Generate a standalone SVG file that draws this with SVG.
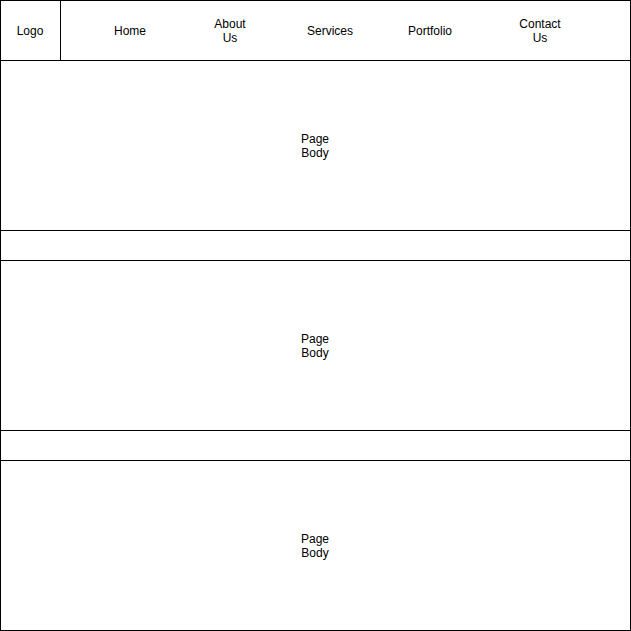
<svg xmlns="http://www.w3.org/2000/svg" width="631" height="631" viewBox="0 0 631 631">
<style>
.box{fill:#ffffff;stroke:#000000;stroke-width:1}
.t{font-family:"Liberation Sans",Arial,sans-serif;font-size:12px;fill:#000000;text-anchor:middle}
</style>
<rect x="0" y="0" width="631" height="631" fill="#ffffff"/>
<g id="header"><rect class="box" x="0.5" y="0.5" width="630" height="60"/></g>
<g id="logo"><rect class="box" x="0.5" y="0.5" width="60" height="60"/><text class="t" x="30" y="35">Logo</text></g>
<g id="nav-home"><text class="t" x="130" y="35">Home</text></g>
<g id="nav-about"><text class="t" x="230" y="28">About</text><text class="t" x="230" y="42">Us</text></g>
<g id="nav-services"><text class="t" x="330" y="35">Services</text></g>
<g id="nav-portfolio"><text class="t" x="430" y="35">Portfolio</text></g>
<g id="nav-contact"><text class="t" x="540" y="28">Contact</text><text class="t" x="540" y="42">Us</text></g>
<g id="body1"><rect class="box" x="0.5" y="60.5" width="630" height="170"/><text class="t" x="315" y="143">Page</text><text class="t" x="315" y="157">Body</text></g>
<g id="spacer1"><rect class="box" x="0.5" y="230.5" width="630" height="30"/></g>
<g id="body2"><rect class="box" x="0.5" y="260.5" width="630" height="170"/><text class="t" x="315" y="343">Page</text><text class="t" x="315" y="357">Body</text></g>
<g id="spacer2"><rect class="box" x="0.5" y="430.5" width="630" height="30"/></g>
<g id="body3"><rect class="box" x="0.5" y="460.5" width="630" height="170"/><text class="t" x="315" y="543">Page</text><text class="t" x="315" y="557">Body</text></g>
<g id="connectors"></g>
</svg>
